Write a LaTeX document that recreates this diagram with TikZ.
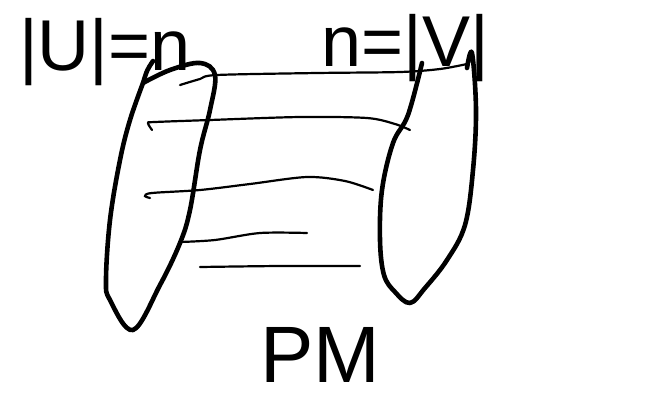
\documentclass[tikz,border=0pt]{standalone}
\usepackage{fontspec}
\setmainfont{Liberation Sans}
\begin{document}
\begin{tikzpicture}[x=1pt,y=-1pt,
  blob/.style={line width=4.6pt,line cap=round,line join=round},
  edge/.style={line width=2.2pt,line cap=round},
  lbl/.style={font=\fontsize{72}{72}\selectfont,inner sep=0pt,anchor=base}]
\useasboundingbox (0,0) rectangle (654,400);
% labels
\node[lbl] (u) at (105,70) {|U|=n};
\node[lbl] (v) at (405,66) {n=|V|};
\node[lbl,font=\fontsize{80}{80}\selectfont,text depth=0pt] (pm) at (320,382) {PM};
% left blob
\draw[blob] plot[smooth,tension=0.6] coordinates {(143,83) (170,70) (200,63) (215,75) (210,110) (200,150) (190,210) (180,243) (160,285) (133,330) (110,300) (106,280) (110,220) (120,160) (130,120) (143,83)};
\draw[blob] (143,83) .. controls (147,70) .. (153,61);
% right blob
\draw[blob] plot[smooth,tension=0.6] coordinates {(422,63) (408,115) (393,143) (382,190) (380,240) (384,275) (395,292) (410,303) (425,288) (447,260) (465,225) (473,170) (476,110) (472,53) (467,68)};
% edges
\draw[edge] plot[smooth] coordinates {(180,85) (200,79) (217,75) (317,73) (400,72) (440,69) (467,64)};
\draw[edge] plot[smooth] coordinates {(152,130) (148,123) (155,122) (210,120) (300,117) (367,118) (395,124) (410,130)};
\draw[edge] plot[smooth] coordinates {(150,198) (145,196) (152,193) (200,190) (250,184) (307,177) (345,181) (373,190)};
\draw[edge] plot[smooth] coordinates {(180,242) (215,240) (260,233) (307,233)};
\draw[edge] plot[smooth] coordinates {(200,267) (280,266) (360,266)};
\end{tikzpicture}
\end{document}
